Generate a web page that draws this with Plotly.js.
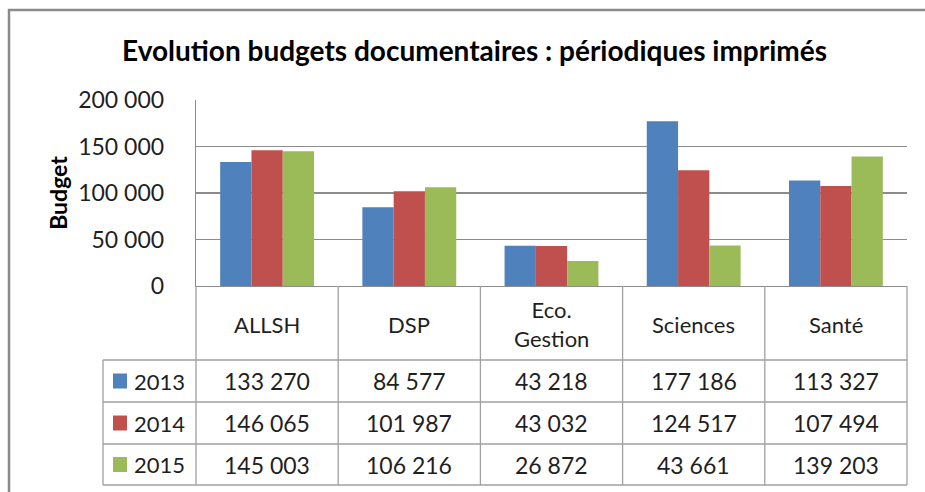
<!DOCTYPE html>
<html><head><meta charset="utf-8">
<script src="https://cdn.plot.ly/plotly-3.0.1.min.js"></script>
<style>html,body{margin:0;padding:0;background:#fff}#chart{width:925px;height:492px}</style>
</head><body><div id="chart"></div>
<script>
// ---- data ----
const categories = ["ALLSH", "DSP", "Eco. Gestion", "Sciences", "Santé"];
const categoryHeaders = ["ALLSH", "DSP", "Eco.<br>Gestion", "Sciences", "Santé"];
const years = ["2013", "2014", "2015"];
const values2013 = [133270, 84577, 43218, 177186, 113327];
const values2014 = [146065, 101987, 43032, 124517, 107494];
const values2015 = [145003, 106216, 26872, 43661, 139203];
const yTicks = [0, 50000, 100000, 150000, 200000];
const chartTitle = "Evolution budgets documentaires : périodiques imprimés";
const yTitle = "Budget";

// ---- styling ----
const seriesValues = [values2013, values2014, values2015];
const colors = ["#4F81BD", "#C0504D", "#9BBB59"];
const W = 925, H = 492;
const px = x => x / W, py = y => 1 - y / H;
const plotL = 196, plotR = 907, plotT = 100, plotB = 286;
const tableL = 103, headerB = 360, rowLines = [360, 402, 444, 485];
const FONT = "Lato, 'Open Sans', sans-serif";
const TXT = "#1f1f1f";
const fmt = n => String(n).replace(/\B(?=(\d{3})+(?!\d))/g, " ");

const traces = years.map((yr, i) => ({
  type: "bar", name: yr, x: categories, y: seriesValues[i],
  marker: {color: colors[i], line: {width: 0}},
  hoverinfo: "x+y+name"
}));

const lineCol = "#a0a0a0";
const shapes = [];
// outer frame
shapes.push({type: "rect", xref: "paper", yref: "paper", x0: px(9), x1: px(940), y0: py(500), y1: py(10),
  line: {color: "#8a8a8a", width: 2.5}, fillcolor: "rgba(0,0,0,0)", layer: "below"});
// table horizontal lines
rowLines.forEach(y => shapes.push({type: "line", xref: "paper", yref: "paper",
  x0: px(tableL), x1: px(plotR), y0: py(y), y1: py(y), line: {color: lineCol, width: 1.3}}));
// category boundary verticals
const nCat = categories.length;
for (let k = 0; k <= nCat; k++) {
  const x = plotL + (plotR - plotL) * k / nCat;
  shapes.push({type: "line", xref: "paper", yref: "paper", x0: px(x), x1: px(x), y0: py(plotB), y1: py(rowLines[rowLines.length - 1]),
    line: {color: lineCol, width: 1.3}});
}
// legend column left edge
shapes.push({type: "line", xref: "paper", yref: "paper", x0: px(tableL), x1: px(tableL), y0: py(headerB), y1: py(rowLines[rowLines.length - 1]),
  line: {color: lineCol, width: 1.3}});

const annotations = [];
// header labels
categoryHeaders.forEach((c, j) => annotations.push({xref: "x", yref: "paper", x: categories[j], y: py((plotB + headerB) / 2 + 1),
  text: c, showarrow: false, font: {family: FONT, size: 22, color: TXT}, xanchor: "center", yanchor: "middle", align: "center"}));
// rows
years.forEach((yr, i) => {
  const yc = (rowLines[i] + rowLines[i + 1]) / 2;
  shapes.push({type: "rect", xref: "paper", yref: "paper", x0: px(113), x1: px(127), y0: py(yc + 7.5), y1: py(yc - 7.5),
    fillcolor: colors[i], line: {width: 0}});
  annotations.push({xref: "paper", yref: "paper", x: px(132), y: py(yc), text: yr, showarrow: false,
    xanchor: "left", yanchor: "middle", font: {family: FONT, size: 22, color: TXT}});
  seriesValues[i].forEach((v, j) => annotations.push({xref: "x", yref: "paper", x: categories[j], y: py(yc),
    text: fmt(v), showarrow: false, xanchor: "center", yanchor: "middle", font: {family: FONT, size: 23, color: TXT}}));
});

const layout = {
  width: W, height: H,
  margin: {l: 0, r: 0, t: 0, b: 0},
  paper_bgcolor: "#fff", plot_bgcolor: "#fff",
  separators: ", ",
  showlegend: false,
  barmode: "group", bargap: 0.34, bargroupgap: 0,
  title: {text: chartTitle, x: 0.513, xanchor: "center", y: py(51), yanchor: "middle",
    font: {family: FONT, size: 28, color: "#000", weight: "bold"}},
  xaxis: {domain: [px(plotL), px(plotR)], showticklabels: false, ticks: "", showgrid: false,
    showline: true, linecolor: "#8c8c8c", linewidth: 1.3, zeroline: false, fixedrange: true},
  yaxis: {domain: [py(plotB), py(plotT)], range: [0, 200000], tickvals: yTicks, tickformat: ",.0f",
    ticks: "", ticklabelstandoff: 26, showline: true, linecolor: "#8c8c8c", linewidth: 1.3,
    gridcolor: "#8c8c8c", gridwidth: 1.3, zeroline: false, fixedrange: true,
    tickfont: {family: FONT, size: 23, color: TXT},
    title: {text: yTitle, standoff: 4, font: {family: FONT, size: 23, color: "#000", weight: "bold"}}},
  shapes: shapes, annotations: annotations
};

Plotly.newPlot("chart", traces, layout, {displayModeBar: false, staticPlot: true});
</script></body></html>
